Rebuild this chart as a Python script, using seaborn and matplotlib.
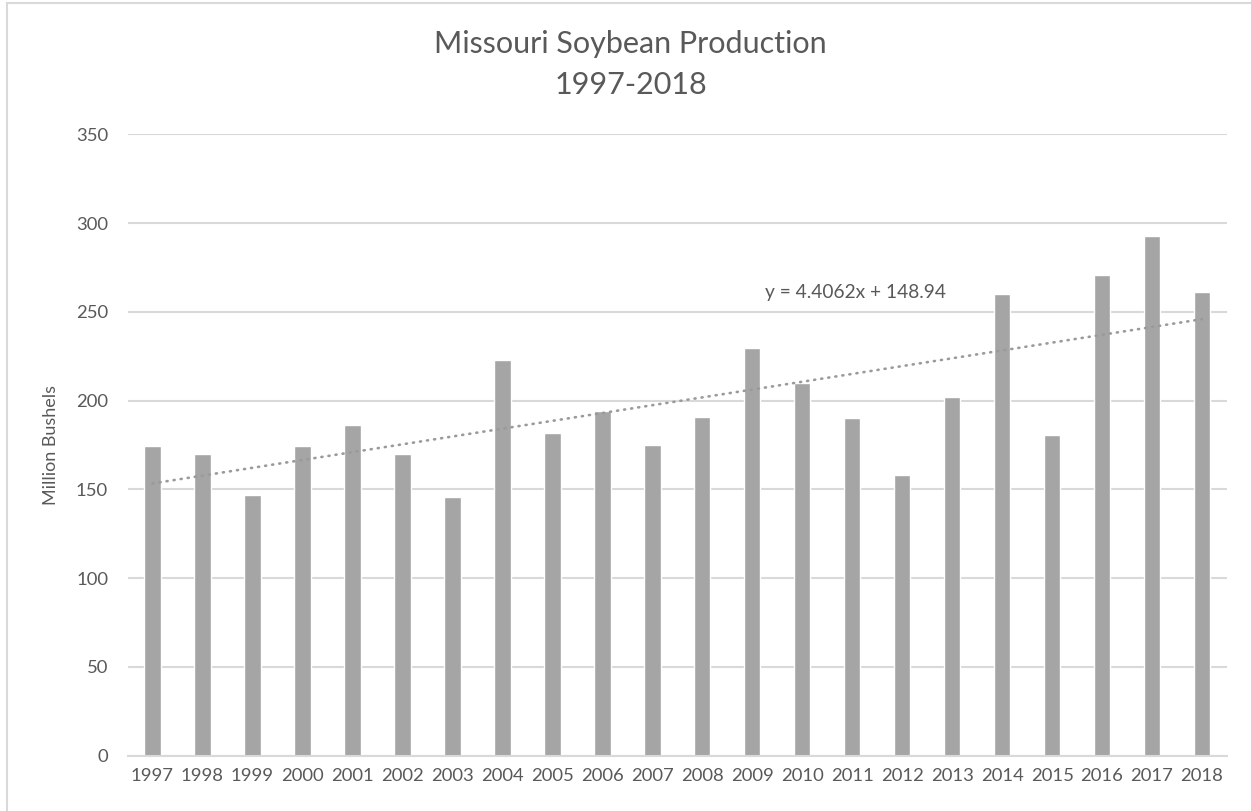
import matplotlib
matplotlib.use("Agg")
import matplotlib.pyplot as plt
import seaborn as sns
import numpy as np
import pandas as pd
from matplotlib.patches import Rectangle

years = [str(y) for y in range(1997, 2019)]
production = [174.3, 169.8, 147.0, 174.3, 186.1, 169.8, 145.9, 222.8, 181.5, 194.0,
              175.1, 190.8, 229.9, 209.9, 190.1, 157.9, 201.9, 259.8, 180.8, 270.8,
              292.8, 260.9]
trend_slope = 4.4062
trend_intercept = 148.94
title_lines = ["Missouri Soybean Production", "1997-2018"]
y_label = "Million Bushels"
y_ticks = [0, 50, 100, 150, 200, 250, 300, 350]

sns.set_theme(style="white")
plt.rcParams['font.family'] = ['Lato', 'DejaVu Sans']
TXT = '#595959'

df = pd.DataFrame({"Year": years, "Production": production})

fig = plt.figure(figsize=(12.51, 8.11), dpi=100)
ax = fig.add_axes([127.5 / 1251, 55.3 / 811, 1099.5 / 1251, 621.4 / 811])

sns.barplot(data=df, x="Year", y="Production", color='#a5a5a5', width=0.33,
            saturation=1, ax=ax, zorder=3)

# Linear trendline (Excel style, x = 1..n)
xi = np.arange(len(years))
ax.plot(xi, trend_slope * (xi + 1) + trend_intercept, color='#9a9a9a', lw=1.9,
        linestyle=(0, (0.4, 2.3)), dash_capstyle='round', zorder=4)
ax.text(12.25, 261, f"y = {trend_slope}x + {trend_intercept}", color=TXT,
        fontsize=13.8, ha='left', va='center', zorder=5)

ax.set_xlim(-0.5, len(years) - 0.5)
ax.set_ylim(0, 350)
ax.set_yticks(y_ticks)
ax.yaxis.grid(True, color='#d9d9d9', lw=1.5, zorder=0)
ax.xaxis.grid(False)
for s in ['top', 'right', 'left']:
    ax.spines[s].set_visible(False)
ax.spines['bottom'].set_color('#d9d9d9')
ax.spines['bottom'].set_linewidth(1.5)
ax.spines['bottom'].set_zorder(5)
ax.tick_params(axis='both', length=0, labelsize=13.3, colors=TXT)
ax.tick_params(axis='y', pad=14)
ax.tick_params(axis='x', pad=9)
ax.set_xlabel("")
ax.set_ylabel(y_label, color=TXT, fontsize=13, labelpad=12)

fig.text(0.504, 0.935, title_lines[0], ha='center', va='baseline', fontsize=22, color=TXT)
fig.text(0.504, 0.884, title_lines[1], ha='center', va='baseline', fontsize=22, color=TXT)

fig.patches.append(Rectangle((7 / 1251, -0.1), 1.2, 1.1 - 3.5 / 811, transform=fig.transFigure,
                             fill=False, edgecolor='#d9d9d9', lw=1.5))

fig.savefig("out.png", dpi=100)
